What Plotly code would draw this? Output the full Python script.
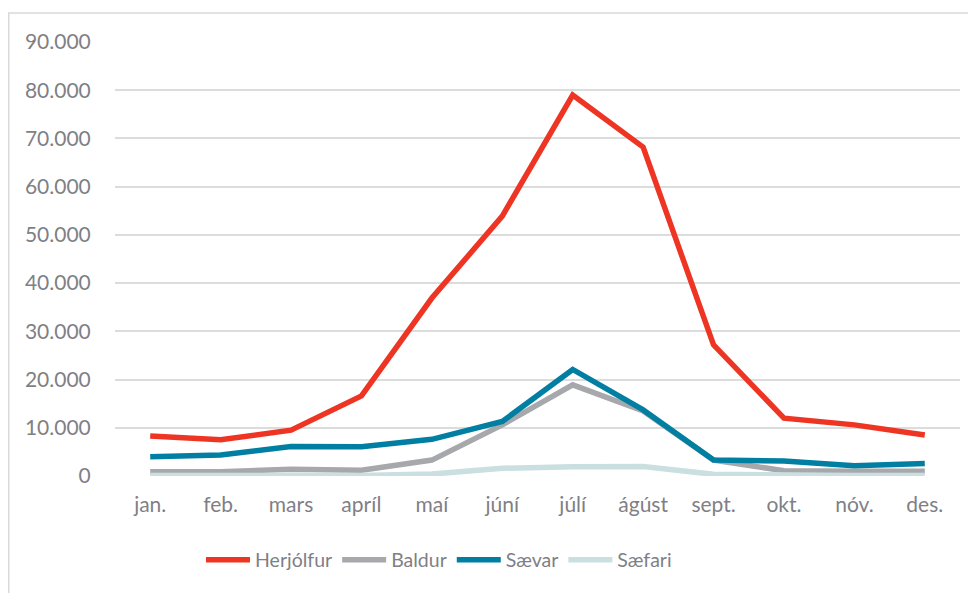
import plotly.graph_objects as go

months = ["jan.", "feb.", "mars", "apríl", "maí", "júní", "júlí", "ágúst", "sept.", "okt.", "nóv.", "des."]
herjolfur = [8300, 7500, 9500, 16600, 36900, 53900, 79000, 68200, 27200, 12000, 10600, 8500]
baldur = [900, 900, 1400, 1200, 3300, 10600, 18900, 13500, 3300, 1100, 1000, 1000]
saevar = [4000, 4350, 6100, 6050, 7600, 11300, 22100, 13700, 3300, 3100, 2150, 2600]
saefari = [100, 100, 100, 100, 400, 1600, 1900, 1950, 350, 100, 100, 100]
y_ticks = [0, 10000, 20000, 30000, 40000, 50000, 60000, 70000, 80000, 90000]
y_tick_labels = ["0", "10.000", "20.000", "30.000", "40.000", "50.000", "60.000", "70.000", "80.000", "90.000"]

series = [
    ("Herjólfur", herjolfur, "#EE3524"),
    ("Baldur", baldur, "#A7A8AC"),
    ("Sævar", saevar, "#007FA3"),
    ("Sæfari", saefari, "#CADFE0"),
]

fig = go.Figure()
for name, vals, color in series:
    fig.add_trace(go.Scatter(x=months, y=vals, name=name, mode="lines",
                             line=dict(color=color, width=5.5)))

# page body has an 8px margin; plot area target in screen px: x 115..960, y 42..476
OFF = 8
W, H = 976 - OFF, 593 - OFF
L, T = 115 - OFF, 42 - OFF
R = W - (960 - OFF)
B = H - (476 - OFF)
PW, PH = W - L - R, H - T - B

def px(sx):
    return (sx - OFF - L) / PW

def py(sy):
    return (H - B - (sy - OFF)) / PH

textcol = "#7F7F86"
fig.update_layout(
    width=W, height=H,
    margin=dict(l=L, r=R, t=T, b=B),
    paper_bgcolor="white", plot_bgcolor="white",
    font=dict(family="Lato, sans-serif", size=21, color=textcol),
    showlegend=True,
    legend=dict(orientation="h", x=px(439), xanchor="center", y=py(560), yanchor="middle",
                font=dict(size=19.5, color=textcol), itemwidth=44, traceorder="normal"),
    xaxis=dict(showgrid=False, showline=False, zeroline=False,
               ticks="outside", ticklen=10, tickcolor="rgba(0,0,0,0)",
               tickfont=dict(size=21), range=[-0.5, 11.5]),
    yaxis=dict(range=[0, 90000], tickvals=y_ticks, ticktext=y_tick_labels,
               showgrid=True, gridcolor="#DCDCDC", gridwidth=1.5,
               zeroline=False, showline=False, tickfont=dict(size=21),
               ticks="outside", ticklen=19, tickcolor="rgba(0,0,0,0)"),
    shapes=[dict(type="rect", xref="paper", yref="paper",
                 x0=px(8.75), x1=px(1000),
                 y0=py(620), y1=py(13),
                 line=dict(color="#D9D9D9", width=1.5), layer="below")],
)
fig.write_html("out.html")
